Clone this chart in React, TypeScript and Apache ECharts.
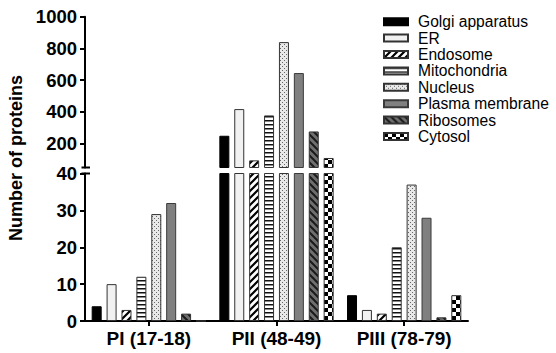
import React, { useEffect, useRef } from 'react';
import * as echarts from 'echarts';

const categories = ['PI (17-18)', 'PII (48-49)', 'PIII (78-79)'];
const seriesNames = ['Golgi apparatus', 'ER', 'Endosome', 'Mitochondria', 'Nucleus', 'Plasma membrane', 'Ribosomes', 'Cytosol'];

const golgi = [4, 250, 7];
const er = [10, 418, 3];
const endosome = [3, 95, 2];
const mitochondria = [12, 378, 20];
const nucleus = [29, 840, 37];
const plasmaMembrane = [32, 645, 28];
const ribosomes = [2, 277, 1];
const cytosol = [0, 110, 7];

const lowerTicks = [0, 10, 20, 30, 40];
const upperTicks = [200, 400, 600, 800, 1000];
const upperMin = 50;
const upperMax = 1000;
const lowerMin = 0;
const lowerMax = 40;

const FONT = '"Liberation Sans", Arial, Helvetica, sans-serif';

// layout constants
const GL = 85;
const GW = 383;
const UP_TOP = 16.7;
const UP_BOTTOM = 167.5;
const LO_TOP = 173.5;
const LO_BOTTOM = 321;

function tile(w: number, h: number, draw: (ctx: CanvasRenderingContext2D) => void) {
  const c = document.createElement('canvas');
  c.width = w;
  c.height = h;
  const ctx = c.getContext('2d') as CanvasRenderingContext2D;
  draw(ctx);
  return { image: c, repeat: 'repeat', imageWidth: w, imageHeight: h };
}

function buildStyles() {
  const endo = tile(7, 7, (ctx) => {
    ctx.fillStyle = '#fff';
    ctx.fillRect(0, 0, 7, 7);
    ctx.strokeStyle = '#000';
    ctx.lineWidth = 2.2;
    ctx.beginPath();
    for (const k of [-7, 0, 7]) {
      ctx.moveTo(k - 1, 8);
      ctx.lineTo(k + 8, -1);
    }
    ctx.stroke();
  });
  const mito = tile(4, 4, (ctx) => {
    ctx.fillStyle = '#fff';
    ctx.fillRect(0, 0, 4, 4);
    ctx.fillStyle = '#111';
    ctx.fillRect(0, 0, 4, 1.5);
  });
  const nuc = tile(4, 4, (ctx) => {
    ctx.fillStyle = '#e9e9e9';
    ctx.fillRect(0, 0, 4, 4);
    ctx.fillStyle = '#666';
    ctx.fillRect(0, 0, 1, 1);
    ctx.fillRect(2, 2, 1, 1);
  });
  const ribo = tile(7, 7, (ctx) => {
    ctx.fillStyle = '#6f6f6f';
    ctx.fillRect(0, 0, 7, 7);
    ctx.strokeStyle = '#1a1a1a';
    ctx.lineWidth = 2;
    ctx.beginPath();
    for (const k of [-7, 0, 7]) {
      ctx.moveTo(k - 1, -1);
      ctx.lineTo(k + 8, 8);
    }
    ctx.stroke();
  });
  const cyto = tile(8, 8, (ctx) => {
    ctx.fillStyle = '#fff';
    ctx.fillRect(0, 0, 8, 8);
    ctx.fillStyle = '#000';
    ctx.fillRect(0, 0, 4, 4);
    ctx.fillRect(4, 4, 4, 4);
  });
  return [
    { color: '#000', borderColor: '#000', borderWidth: 1 },
    { color: '#f1f1f1', borderColor: '#333', borderWidth: 1 },
    { color: endo, borderColor: '#333', borderWidth: 1 },
    { color: mito, borderColor: '#333', borderWidth: 1 },
    { color: nuc, borderColor: '#333', borderWidth: 1 },
    { color: '#808080', borderColor: '#3a3a3a', borderWidth: 1 },
    { color: ribo, borderColor: '#333', borderWidth: 1 },
    { color: cyto, borderColor: '#333', borderWidth: 1 },
  ];
}

const seriesValues = [golgi, er, endosome, mitochondria, nucleus, plasmaMembrane, ribosomes, cytosol];

export default function App() {
  const ref = useRef<HTMLDivElement>(null);
  useEffect(() => {
    document.body.style.margin = '0';
    if (!ref.current) return;
    const chart = echarts.init(ref.current, undefined, { renderer: 'svg' });
    const styles = buildStyles();
    const series: any[] = [];
    seriesValues.forEach((vals, i) => {
      const base = {
        type: 'bar',
        name: seriesNames[i],
        barWidth: 10,
        barGap: '49%',
        clip: true,
        itemStyle: styles[i],
        emphasis: { disabled: true },
      };
      series.push({ ...base, xAxisIndex: 0, yAxisIndex: 0, data: vals });
      series.push({ ...base, xAxisIndex: 1, yAxisIndex: 1, data: vals });
    });
    const axisLine = { show: true, lineStyle: { color: '#000', width: 2 } };
    const axisTick = { show: true, length: 5, lineStyle: { color: '#000', width: 2 } };
    const yLabel = {
      color: '#000',
      fontFamily: FONT,
      fontWeight: 'bold',
      fontSize: 18.5,
      margin: 8,
      formatter: (v: number) => String(v),
    };
    chart.setOption({
      animation: false,
      backgroundColor: '#fff',
      grid: [
        { left: GL, width: GW, top: LO_TOP, height: LO_BOTTOM - LO_TOP, outerBoundsMode: 'none', containLabel: false },
        { left: GL, width: GW, top: UP_TOP, height: UP_BOTTOM - UP_TOP, outerBoundsMode: 'none', containLabel: false },
      ],
      xAxis: [
        {
          type: 'category',
          gridIndex: 0,
          data: categories,
          axisLine,
          axisTick: { ...axisTick, alignWithLabel: true },
          axisLabel: { color: '#000', fontFamily: FONT, fontWeight: 'bold', fontSize: 19, margin: 8 },
          splitLine: { show: false },
        },
        {
          type: 'category',
          gridIndex: 1,
          data: categories,
          show: false,
        },
      ],
      yAxis: [
        {
          type: 'value',
          gridIndex: 0,
          min: lowerMin,
          max: lowerMax,
          interval: 10,
          axisLine,
          axisTick,
          axisLabel: { ...yLabel, customValues: lowerTicks },
          splitLine: { show: false },
        },
        {
          type: 'value',
          gridIndex: 1,
          min: upperMin,
          max: upperMax,
          axisLine,
          axisTick: { ...axisTick, customValues: upperTicks },
          axisLabel: { ...yLabel, customValues: upperTicks },
          splitLine: { show: false },
        },
      ],
      legend: {
        data: seriesNames,
        orient: 'vertical',
        left: 383,
        top: 13.5,
        itemWidth: 24,
        itemHeight: 7,
        itemGap: 0,
        icon: 'rect',
        selectedMode: false,
        padding: 0,
        textStyle: { color: '#000', fontFamily: FONT, fontSize: 15.6, lineHeight: 16.4, padding: [0, 0, 0, 5] },
      },
      graphic: [
        {
          type: 'text',
          x: 16,
          y: 158,
          rotation: Math.PI / 2,
          style: {
            text: 'Number of proteins',
            fill: '#000',
            font: 'bold 18px "Liberation Sans", Arial, sans-serif',
            textAlign: 'center',
            textVerticalAlign: 'middle',
          },
        },
        { type: 'line', shape: { x1: GL - 3.5, y1: UP_BOTTOM, x2: GL + 5, y2: UP_BOTTOM }, style: { stroke: '#000', lineWidth: 2 } },
        { type: 'line', shape: { x1: GL - 3.5, y1: LO_TOP, x2: GL + 5, y2: LO_TOP }, style: { stroke: '#000', lineWidth: 2 } },
      ],
      series,
    });
    return () => chart.dispose();
  }, []);
  return <div ref={ref} style={{ width: 556, height: 353 }} />;
}
